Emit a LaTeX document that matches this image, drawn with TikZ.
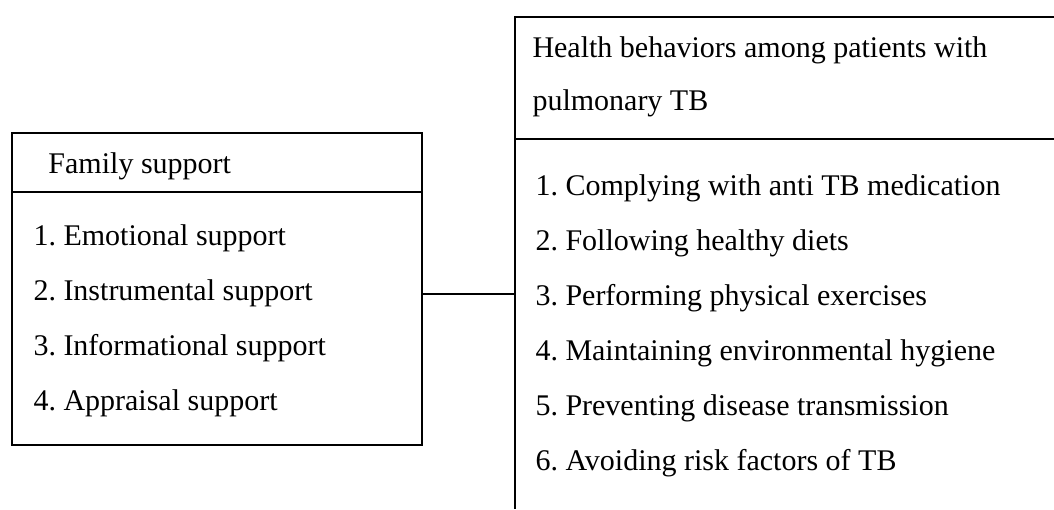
\documentclass[tikz,border=0pt]{standalone}
\usepackage{fontspec}
\setmainfont{Liberation Serif}
\frenchspacing
\begin{document}
\begin{tikzpicture}[x=0.4pt,y=-0.4pt,
  txt/.style={anchor=base west, inner sep=0pt, font=\fontsize{12}{14}\selectfont\frenchspacing},
  frame/.style={line width=0.8pt, draw=black}]
\useasboundingbox (0,0) rectangle (1054,509);
% left box
\draw[frame] (12,133) rectangle (422,445);
\draw[frame] (12,192) -- (422,192);
\node[txt] (famh) at (48,173) {Family support};
\node[txt] (f1) at (33,245) {1. Emotional support};
\node[txt] (f2) at (33,300) {2. Instrumental support};
\node[txt] (f3) at (33,355) {3. Informational support};
\node[txt] (f4) at (33,410) {4. Appraisal support};
% right box (open to the right and bottom)
\draw[frame] (1054,16.5) -- (515,16.5) -- (515,509);
\draw[frame] (515,139) -- (1054,139);
\node[txt] (hbh1) at (532,57) {Health behaviors among patients with};
\node[txt] (hbh2) at (532,110) {pulmonary TB};
\node[txt] (h1) at (535,195) {1. Complying with anti TB medication};
\node[txt] (h2) at (535,250) {2. Following healthy diets};
\node[txt] (h3) at (535,305) {3. Performing physical exercises};
\node[txt] (h4) at (535,360) {4. Maintaining environmental hygiene};
\node[txt] (h5) at (535,415) {5. Preventing disease transmission};
\node[txt] (h6) at (535,470) {6. Avoiding risk factors of TB};
% connector
\coordinate (famE) at (422,294);
\coordinate (hbW) at (515,294);
\draw[line width=0.8pt] (famE) -- (hbW);
\end{tikzpicture}
\end{document}
